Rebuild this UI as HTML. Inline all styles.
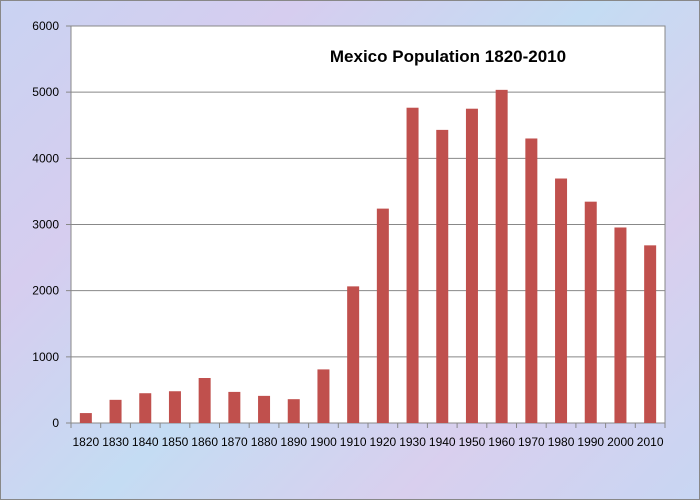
<!DOCTYPE html>
<html><head><meta charset="utf-8"><style>
body{margin:0;}
#c{width:700px;height:500px;position:relative;box-sizing:border-box;border:1px solid #888;
background:linear-gradient(135deg,#c9d3f2 0%,#d6cdef 25%,#c4dcf3 50%,#d9cfee 75%,#c8d6f3 100%);overflow:hidden;}
svg text{font-family:"Liberation Sans",sans-serif;}
</style></head><body>
<div id="c">
<svg id="s" width="700" height="500"></svg>
</div>
<script>
const categories=["1820","1830","1840","1850","1860","1870","1880","1890","1900","1910","1920","1930","1940","1950","1960","1970","1980","1990","2000","2010"];
const values=[150,350,450,480,680,470,410,360,810,2065,3240,4765,4430,4750,5035,4300,3695,3345,2955,2685];
const yTicks=[0,1000,2000,3000,4000,5000,6000];
const title="Mexico Population 1820-2010";
const NS="http://www.w3.org/2000/svg";
const s=document.getElementById('s');
const L=70,R=664,T=25,B=422,YMAX=6000;
const y=v=>B-(v/YMAX)*(B-T);
const step=(R-L)/categories.length;
const x=i=>L+step*i;
function mk(t,a){const e=document.createElementNS(NS,t);for(const k in a)e.setAttribute(k,a[k]);s.appendChild(e);return e;}
const pa=mk('rect',{x:L,y:T,width:R-L,height:B-T,fill:'#fff',stroke:'#888'});


yTicks.forEach(v=>{
 const g=mk('line',{x1:L-5,x2:R,y1:y(v),y2:y(v),stroke:'#888','stroke-width':1});
 
 
 const t=mk('text',{x:L-12,y:y(v)+4,'text-anchor':'end','font-size':12,fill:'#000'});
 t.textContent=v;
 
 
});
const ax=mk('line',{x1:L,x2:L,y1:T,y2:B,stroke:'#888'});


categories.forEach((c,i)=>{
 const tk=mk('line',{x1:x(i),x2:x(i),y1:B,y2:B+5,stroke:'#888'});
 
 
 const bw=12;
 const b=mk('rect',{x:x(i)+step/2-bw/2,y:y(values[i]),width:bw,height:B-y(values[i]),fill:'#c0504d'});
 
 
 const t=mk('text',{x:x(i)+step/2,y:B+23,'text-anchor':'middle','font-size':12,fill:'#000'});
 t.textContent=c;
 
 
});
const ex=mk('line',{x1:R,x2:R,y1:B,y2:B+5,stroke:'#888'});


const tt=mk('text',{x:447,y:61,'text-anchor':'middle','font-size':17,'font-weight':'bold',fill:'#000'});
tt.textContent=title;


</script>
</body></html>
